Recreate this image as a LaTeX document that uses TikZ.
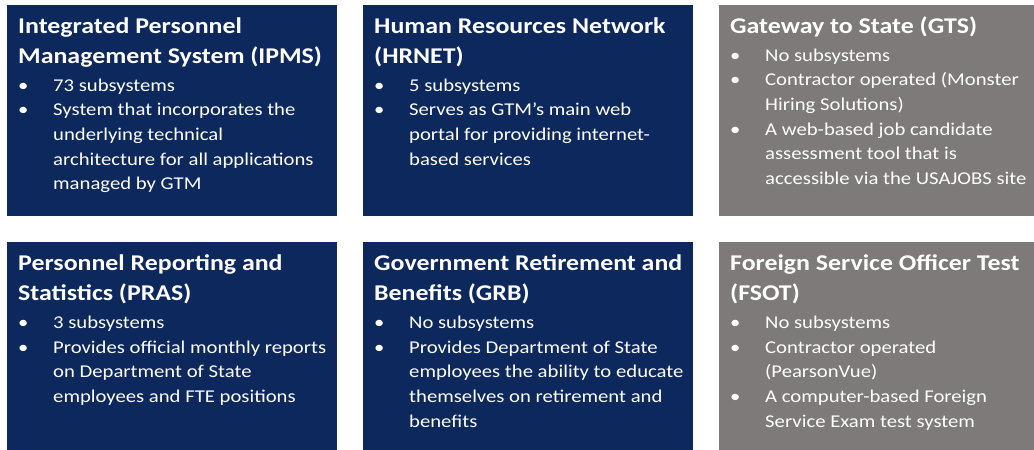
\documentclass[tikz,border=0pt]{standalone}
\usepackage{fontspec}
\setmainfont{Carlito}[FakeStretch=1.15]
\definecolor{navy}{RGB}{12,40,92}
\definecolor{slate}{RGB}{127,122,122}
\newcommand\ttl[1]{\hbox{\fontsize{22.5}{27}\selectfont\bfseries #1}}
\newcommand\bul[1]{\hbox{\fontsize{18}{22}\selectfont\makebox[35pt][l]{\hspace{0pt}\textbullet}#1}}
\newcommand\cnt[1]{\hbox{\fontsize{18}{22}\selectfont\hspace{35pt}#1}}
\newcommand\tsp{\baselineskip=30pt }
\newcommand\fsp{\baselineskip=28pt }
\newcommand\bsp{\baselineskip=24.7pt }
\begin{document}
\begin{tikzpicture}[x=1pt,y=-1pt,
  txt/.style={anchor=base west, inner sep=0pt, text=white}]
\useasboundingbox (0,0) rectangle (1034,450);
\fill[white] (0,0) rectangle (1034,450);
% boxes
\fill[navy]  (7,5)   rectangle (337,216);
\fill[navy]  (363,5) rectangle (693,216);
\fill[slate] (719,5) rectangle (1034,216);
\fill[navy]  (7,242)   rectangle (337,450);
\fill[navy]  (363,242) rectangle (693,450);
\fill[slate] (719,242) rectangle (1034,450);
% texts
\node[txt] (ipms) at (18,33) {\vtop{\lineskiplimit=-1000pt \tsp
  \ttl{Integrated Personnel}\ttl{Management System (IPMS)}\fsp
  \bul{73 subsystems}\bsp
  \bul{System that incorporates the}
  \cnt{underlying technical}
  \cnt{architecture for all applications}
  \cnt{managed by GTM}}};
\node[txt] (hrnet) at (374,33) {\vtop{\lineskiplimit=-1000pt \tsp
  \ttl{Human Resources Network}\ttl{(HRNET)}\fsp
  \bul{5 subsystems}\bsp
  \bul{Serves as GTM’s main web}
  \cnt{portal for providing internet-}
  \cnt{based services}}};
\node[txt] (gts) at (730,33) {\vtop{\lineskiplimit=-1000pt \tsp
  \ttl{Gateway to State (GTS)}\fsp
  \bul{No subsystems}\bsp
  \bul{Contractor operated (Monster}
  \cnt{Hiring Solutions)}
  \bul{A web-based job candidate}
  \cnt{assessment tool that is}
  \cnt{accessible via the USAJOBS site}}};
\node[txt] (pras) at (18,270.5) {\vtop{\lineskiplimit=-1000pt \tsp
  \ttl{Personnel Reporting and}\ttl{Statistics (PRAS)}\fsp
  \bul{3 subsystems}\bsp
  \bul{Provides official monthly reports}
  \cnt{on Department of State}
  \cnt{employees and FTE positions}}};
\node[txt] (grb) at (374,270.5) {\vtop{\lineskiplimit=-1000pt \tsp
  \ttl{Government Retirement and}\ttl{Benefits (GRB)}\fsp
  \bul{No subsystems}\bsp
  \bul{Provides Department of State}
  \cnt{employees the ability to educate}
  \cnt{themselves on retirement and}
  \cnt{benefits}}};
\node[txt] (fsot) at (730,270.5) {\vtop{\lineskiplimit=-1000pt \tsp
  \ttl{Foreign Service Officer Test}\ttl{(FSOT)}\fsp
  \bul{No subsystems}\bsp
  \bul{Contractor operated}
  \cnt{(PearsonVue)}
  \bul{A computer-based Foreign}
  \cnt{Service Exam test system}}};
\end{tikzpicture}
\end{document}
